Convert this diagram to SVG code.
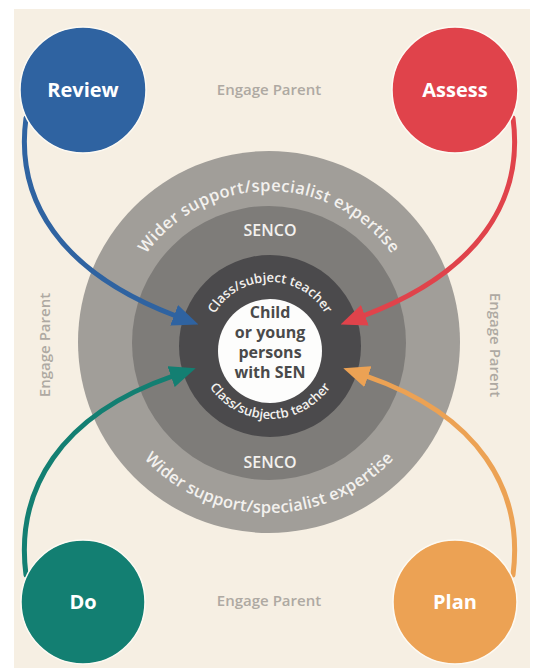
<svg xmlns="http://www.w3.org/2000/svg" width="533" height="668" viewBox="0 0 533 668">
<style>
.node-label{font-family:"Open Sans","Liberation Sans",sans-serif;font-weight:700;fill:#ffffff;text-anchor:middle}
.parent{font-family:"Open Sans","Liberation Sans",sans-serif;font-weight:600;font-size:15px;fill:#aea9a2;text-anchor:middle}
.ring{font-family:"Open Sans","Liberation Sans",sans-serif;font-weight:600;fill:#f3f1ee}
.centre{font-family:"Open Sans","Liberation Sans",sans-serif;font-weight:700;font-size:16px;fill:#4a4a4a;text-anchor:middle}
.conn{fill:none;stroke-width:5;stroke-linecap:round}
.halo{stroke:#fdfaf3;stroke-width:1.5}
</style>
<defs>
<marker id="ahBlue" markerUnits="userSpaceOnUse" markerWidth="26" markerHeight="22" refX="2" refY="11" orient="auto" viewBox="0 0 26 22"><path d="M0,0 L26,11 L0,22 Z" fill="#2f63a1"/></marker>
<marker id="ahRed" markerUnits="userSpaceOnUse" markerWidth="26" markerHeight="22" refX="2" refY="11" orient="auto" viewBox="0 0 26 22"><path d="M0,0 L26,11 L0,22 Z" fill="#e0434b"/></marker>
<marker id="ahGreen" markerUnits="userSpaceOnUse" markerWidth="26" markerHeight="22" refX="2" refY="11" orient="auto" viewBox="0 0 26 22"><path d="M0,0 L26,11 L0,22 Z" fill="#137f72"/></marker>
<marker id="ahOrange" markerUnits="userSpaceOnUse" markerWidth="26" markerHeight="22" refX="2" refY="11" orient="auto" viewBox="0 0 26 22"><path d="M0,0 L26,11 L0,22 Z" fill="#eca254"/></marker>
<path id="outerTop" d="M118,342 A151,151 0 0 1 420,342"/>
<path id="outerBottom" d="M98,342 A171,171 0 0 0 440,342"/>
<path id="innerTop" d="M206,346 A64,64 0 0 1 334,346"/>
<path id="innerBottom" d="M197,346 A73,73 0 0 0 343,346"/>
</defs>
<rect x="0" y="0" width="533" height="668" fill="#ffffff"/>
<rect x="14" y="9" width="516" height="659" fill="#f6efe3"/>

<g id="rings">
<circle cx="269" cy="342" r="191" fill="#a19e99"/>
<circle cx="269" cy="343" r="137" fill="#7e7c79"/>
<circle cx="270" cy="346" r="91" fill="#4b4a4c"/>
<circle cx="270" cy="351" r="52" fill="#fdfdfc"/>
</g>

<g id="ring-labels">
<text class="ring" font-size="16.5" letter-spacing="0.4"><textPath href="#outerTop" startOffset="50%" text-anchor="middle">Wider support/specialist expertise</textPath></text>
<text class="ring" font-size="16.5" letter-spacing="0.2"><textPath href="#outerBottom" startOffset="50%" text-anchor="middle">Wider support/specialist expertise</textPath></text>
<text class="ring" font-size="16" x="270" y="236" text-anchor="middle">SENCO</text>
<text class="ring" font-size="16" x="270" y="468" text-anchor="middle">SENCO</text>
<text class="ring" font-size="13"><textPath href="#innerTop" startOffset="50%" text-anchor="middle">Class/subject teacher</textPath></text>
<text class="ring" font-size="13"><textPath href="#innerBottom" startOffset="50%" text-anchor="middle">Class/subjectb teacher</textPath></text>
</g>

<g id="centre">
<text class="centre" x="270" y="318">Child</text>
<text class="centre" x="270" y="338">or young</text>
<text class="centre" x="270" y="358">persons</text>
<text class="centre" x="270" y="378">with SEN</text>
</g>

<g id="parent-labels">
<text class="parent" x="269" y="95">Engage Parent</text>
<text class="parent" x="269" y="606">Engage Parent</text>
<text class="parent" transform="translate(50,345) rotate(-90)">Engage Parent</text>
<text class="parent" transform="translate(490,345) rotate(90)">Engage Parent</text>
</g>

<g id="connectors">
<path class="conn" stroke="#2f63a1" d="M26,118 C15,200 60,272 176,316" marker-end="url(#ahBlue)"/>
<path class="conn" stroke="#e0434b" d="M513,118 C524,200 479,272 363,316" marker-end="url(#ahRed)"/>
<path class="conn" stroke="#137f72" d="M26,575 C15,490 60,415 173,376" marker-end="url(#ahGreen)"/>
<path class="conn" stroke="#eca254" d="M513,575 C524,490 479,415 366,376" marker-end="url(#ahOrange)"/>
</g>

<g id="review">
<circle class="halo" cx="83" cy="90" r="63" fill="#2f63a1"/>
<text class="node-label" font-size="20" x="83" y="97">Review</text>
</g>
<g id="assess">
<circle class="halo" cx="455" cy="90" r="63" fill="#e0434b"/>
<text class="node-label" font-size="20" x="455" y="97">Assess</text>
</g>
<g id="do">
<circle class="halo" cx="83" cy="602" r="62" fill="#137f72"/>
<text class="node-label" font-size="20" x="83" y="609">Do</text>
</g>
<g id="plan">
<circle class="halo" cx="455" cy="602" r="62" fill="#eca254"/>
<text class="node-label" font-size="20" x="455" y="609">Plan</text>
</g>
</svg>
